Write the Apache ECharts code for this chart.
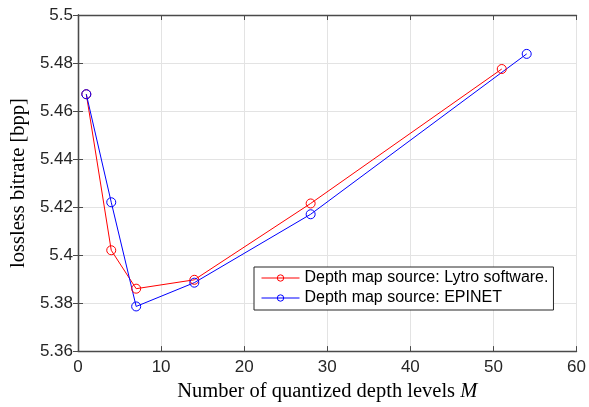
<!DOCTYPE html>
<html>
<head>
<meta charset="utf-8">
<script src="https://cdn.jsdelivr.net/npm/echarts@6/dist/echarts.min.js"></script>
<style>
  html, body { margin: 0; padding: 0; background: #fff; }
  #chart { width: 589px; height: 407px; }
</style>
</head>
<body>
<div id="chart"></div>
<script>
// depth levels M for each series
const lytroM = [1, 4, 7, 14, 28, 51];
const lytroRate = [5.467, 5.402, 5.386, 5.3897, 5.4215, 5.4775];
const epinetM = [1, 4, 7, 14, 28, 54];
const epinetRate = [5.467, 5.422, 5.3786, 5.3885, 5.417, 5.4838];
const seriesNames = ['Depth map source: Lytro software.', 'Depth map source: EPINET'];

const axisColor = '#4a4a4a';
const gridColor = '#e3e3e3';

function pairs(xs, ys) {
    return xs.map(function (x, i) { return [x, ys[i]]; });
}

// y labels like matlab: 5.5, 5.48 ...
function fmtY(v) {
    return String(parseFloat(v.toFixed(2)));
}

let myChart = echarts.init(document.getElementById('chart'));

// second axis on top/right just for box + ticks
let boxAxis = {
    axisLine: { show: true, lineStyle: { color: axisColor, width: 1.3 } },
    axisTick: { show: true, inside: true, length: 5, lineStyle: { color: axisColor } },
    axisLabel: { show: false },
    splitLine: { show: false }
};

let option = {
    animation: false,
    backgroundColor: '#fff',
    grid: { left: 78, right: 11, top: 15, bottom: 50, containLabel: false },
    legend: {
        data: seriesNames,
        orient: 'vertical',
        left: 254,
        top: 267,
        padding: [3, 5, 4, 7],
        itemGap: 4,
        itemWidth: 38,
        itemHeight: 8,
        backgroundColor: '#fff',
        borderColor: '#262626',
        borderWidth: 1,
        lineStyle: { width: 1 },
        itemStyle: { borderWidth: 1 },
        textStyle: { fontFamily: 'Liberation Sans', fontSize: 16, color: '#000' }
    },
    xAxis: [{
        type: 'value',
        min: 0, max: 60, interval: 10,
        name: '{t|Number of quantized depth levels }{i|M}',
        nameLocation: 'middle',
        nameGap: 27,
        nameTextStyle: {
            rich: {
                t: { fontFamily: 'Liberation Serif', fontSize: 20.5, color: '#000' },
                i: { fontFamily: 'Liberation Serif', fontSize: 20.5, fontStyle: 'italic', color: '#000' }
            }
        },
        axisLine: { show: true, onZero: false, lineStyle: { color: axisColor, width: 1.3 } },
        axisTick: { show: true, inside: true, length: 5, lineStyle: { color: axisColor } },
        axisLabel: { fontFamily: 'Liberation Sans', fontSize: 17, color: '#262626', margin: 8 },
        splitLine: { show: true, lineStyle: { color: gridColor, width: 1 } }
    }, Object.assign({ type: 'value', position: 'top', min: 0, max: 60, interval: 10 }, boxAxis)],
    yAxis: [{
        type: 'value',
        min: 5.36, max: 5.5, interval: 0.02,
        name: 'lossless bitrate [bpp]',
        nameLocation: 'middle',
        nameGap: 45,
        nameTextStyle: { fontFamily: 'Liberation Serif', fontSize: 20.5, color: '#000' },
        axisLine: { show: true, onZero: false, lineStyle: { color: axisColor, width: 1.3 } },
        axisTick: { show: true, inside: true, length: 5, lineStyle: { color: axisColor } },
        axisLabel: { fontFamily: 'Liberation Sans', fontSize: 17, color: '#262626', margin: 5, formatter: fmtY },
        splitLine: { show: true, lineStyle: { color: gridColor, width: 1 } }
    }, Object.assign({ type: 'value', position: 'right', min: 5.36, max: 5.5, interval: 0.02 }, boxAxis)],
    series: [{
        name: seriesNames[0],
        type: 'line',
        data: pairs(lytroM, lytroRate),
        symbol: 'circle',
        symbolSize: 9,
        lineStyle: { color: '#ff0000', width: 1 },
        itemStyle: { color: 'rgba(255,255,255,0)', borderColor: '#ff0000', borderWidth: 1 }
    }, {
        name: seriesNames[1],
        type: 'line',
        data: pairs(epinetM, epinetRate),
        symbol: 'circle',
        symbolSize: 9,
        lineStyle: { color: '#0000ff', width: 1 },
        itemStyle: { color: 'rgba(255,255,255,0)', borderColor: '#0000ff', borderWidth: 1 }
    }]
};

myChart.setOption(option);
</script>
</body>
</html>
